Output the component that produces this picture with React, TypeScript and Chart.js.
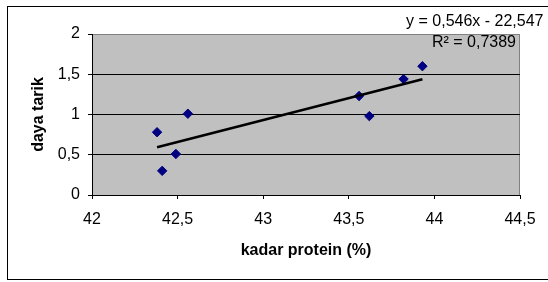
import { useEffect, useRef } from 'react';
import { Chart, registerables } from 'chart.js';

Chart.register(...registerables);

// ---- data ----
const proteinX = [42.38, 42.41, 42.49, 42.56, 43.56, 43.62, 43.82, 43.93];
const dayaTarikY = [0.78, 0.3, 0.51, 1.01, 1.23, 0.98, 1.44, 1.6];
const trendSlope = 0.546;
const trendIntercept = -22.547;
const equationText = 'y = 0,546x - 22,547';
const r2Text = 'R² = 0,7389';
const xTitle = 'kadar protein (%)';
const yTitle = 'daya tarik';
const xMin = 42;
const xMax = 44.5;
const xStep = 0.5;
const yMin = 0;
const yMax = 2;
const yStep = 0.5;

const fmt = (v: number) => String(Math.round(v * 100) / 100).replace('.', ',');

const FONT = "'Liberation Sans', Arial, sans-serif";

const framePlugin = {
  id: 'frame',
  beforeDraw(chart: any) {
    const { ctx, chartArea: a } = chart;
    ctx.save();
    ctx.fillStyle = '#ffffff';
    ctx.fillRect(0, 0, chart.width, chart.height);
    ctx.strokeStyle = '#000000';
    ctx.lineWidth = 1;
    ctx.strokeRect(7.5, 6.5, 560, 273);
    ctx.fillStyle = '#c0c0c0';
    ctx.fillRect(a.left, a.top, a.right - a.left, a.bottom - a.top);
    ctx.strokeStyle = '#808080';
    ctx.beginPath();
    ctx.moveTo(a.left, a.top + 0.5);
    ctx.lineTo(a.right - 0.5, a.top + 0.5);
    ctx.lineTo(a.right - 0.5, a.bottom);
    ctx.stroke();
    ctx.restore();
  },
  afterDraw(chart: any) {
    const { ctx } = chart;
    ctx.save();
    ctx.fillStyle = '#000000';
    ctx.font = `16px ${FONT}`;
    ctx.textAlign = 'right';
    ctx.textBaseline = 'alphabetic';
    ctx.fillText(equationText, 543.5, 25.5);
    ctx.fillText(r2Text, 516, 46.5);
    ctx.restore();
  },
};

export default function App() {
  const ref = useRef<HTMLCanvasElement>(null);

  useEffect(() => {
    if (!ref.current) return;
    const lo = Math.min(...proteinX);
    const hi = Math.max(...proteinX);
    const trend = [
      { x: lo, y: trendSlope * lo + trendIntercept },
      { x: hi, y: trendSlope * hi + trendIntercept },
    ];
    const chart = new Chart(ref.current, {
      type: 'scatter',
      data: {
        datasets: [
          {
            label: 'trend',
            data: trend,
            showLine: true,
            borderColor: '#000000',
            borderWidth: 2.5,
            pointRadius: 0,
            fill: false,
          },
          {
            label: 'data',
            data: proteinX.map((x, i) => ({ x, y: dayaTarikY[i] })),
            pointStyle: 'rectRot',
            pointRadius: 4.7,
            backgroundColor: '#000080',
            borderColor: '#000080',
            borderWidth: 1,
          },
        ],
      },
      options: {
        responsive: false,
        animation: false,
        devicePixelRatio: 1,
        layout: { padding: { left: 0, right: 28, top: 34, bottom: 0 } },
        plugins: {
          legend: { display: false },
          tooltip: { enabled: false },
        },
        scales: {
          x: {
            type: 'linear',
            min: xMin,
            max: xMax,
            afterFit: (s: any) => {
              s.height = 87;
            },
            ticks: {
              stepSize: xStep,
              color: '#000',
              font: { family: FONT, size: 16 },
              padding: 11,
              callback: (v: any) => fmt(Number(v)),
            },
            grid: {
              drawOnChartArea: false,
              drawTicks: true,
              tickLength: 4,
              color: '#000',
              tickColor: '#000',
            },
            border: { display: true, color: '#000', width: 1 },
            title: {
              display: true,
              text: xTitle,
              color: '#000',
              font: { family: FONT, size: 16, weight: 'bold' },
              padding: { top: 0, bottom: 22 },
            },
          },
          y: {
            type: 'linear',
            min: yMin,
            max: yMax,
            afterFit: (s: any) => {
              s.width = 92;
            },
            ticks: {
              stepSize: yStep,
              color: '#000',
              font: { family: FONT, size: 16 },
              padding: 8,
              callback: (v: any) => fmt(Number(v)),
            },
            grid: {
              drawTicks: true,
              tickLength: 4,
              color: (c: any) => (c.tick && c.tick.value === yMax ? '#808080' : '#000'),
              tickColor: '#000',
            },
            border: { display: true, color: '#000', width: 1 },
            title: {
              display: true,
              text: yTitle,
              color: '#000',
              font: { family: FONT, size: 16, weight: 'bold' },
              padding: { top: 29, bottom: 0 },
            },
          },
        },
      },
      plugins: [framePlugin],
    });
    return () => chart.destroy();
  }, []);

  return (
    <div style={{ position: 'absolute', left: 0, top: 0 }}>
      <canvas ref={ref} width={548} height={282} style={{ display: 'block' }} />
    </div>
  );
}
